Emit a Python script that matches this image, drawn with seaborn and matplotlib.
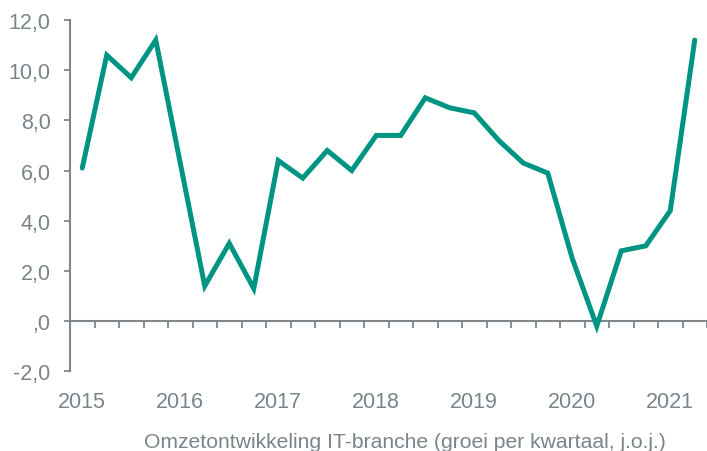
import matplotlib
matplotlib.use("Agg")
import matplotlib.pyplot as plt
import seaborn as sns
import pandas as pd
import numpy as np

# ---- data ----
quarters = [f"{y} Q{q}" for y in range(2015, 2022) for q in range(1, 5)][:26]
values = [6.1, 10.6, 9.7, 11.2,
          6.3, 1.4, 3.1, 1.3,
          6.4, 5.7, 6.8, 6.0,
          7.4, 7.4, 8.9, 8.5,
          8.3, 7.2, 6.3, 5.9,
          2.5, -0.2, 2.8, 3.0,
          4.4, 11.2]
years = ["2015", "2016", "2017", "2018", "2019", "2020", "2021"]
y_ticks = [-2, 0, 2, 4, 6, 8, 10, 12]
y_tick_labels = ["-2,0", ",0", "2,0", "4,0", "6,0", "8,0", "10,0", "12,0"]
caption = "Omzetontwikkeling IT-branche (groei per kwartaal, j.o.j.)"

df = pd.DataFrame({"idx": np.arange(len(values)), "quarter": quarters, "value": values})

sns.set_style("white")
plt.rcParams["font.family"] = ["Liberation Sans", "DejaVu Sans"]

TEXT = "#7a848b"
AXIS = "#7f878c"
LINE = "#009482"

fig = plt.figure(figsize=(7.07, 4.52), dpi=100)
ax = fig.add_axes([70 / 707, 1 - 372.3 / 452, 637 / 707, (372.3 - 21) / 452])

sns.lineplot(data=df, x="idx", y="value", ax=ax, color=LINE, linewidth=3.6,
             solid_joinstyle="miter", solid_capstyle="round")

n = len(values)
ax.set_xlim(-0.5, n - 0.5)
ax.set_ylim(-2, 12)
ax.set_xlabel("")
ax.set_ylabel("")

# spines
for s in ["top", "right"]:
    ax.spines[s].set_visible(False)
ax.spines["bottom"].set_position(("data", 0))
for s in ["bottom", "left"]:
    ax.spines[s].set_color(AXIS)
    ax.spines[s].set_linewidth(1.5)
    ax.spines[s].set_zorder(0)

# x ticks at category boundaries, no labels
ax.set_xticks(np.arange(-0.5, n, 1.0))
ax.set_xticklabels([])
ax.tick_params(axis="x", bottom=True, direction="out", length=5, width=1.3, color=AXIS)

# y ticks
ax.set_yticks(y_ticks)
ax.set_yticklabels(y_tick_labels)
ax.tick_params(axis="y", left=True, direction="out", length=4.5, width=1.3, color=AXIS,
               labelsize=15.5, labelcolor=TEXT, pad=9.5)

# year labels under first quarter of each year
for i, yr in enumerate(years):
    ax.annotate(yr, xy=(i * 4, -2), xycoords="data", xytext=(0, -25.9),
                textcoords="offset points", ha="center", va="baseline",
                fontsize=15.5, color=TEXT, annotation_clip=False)

fig.text(405 / 707, (452 - 448.3) / 452, caption, ha="center", va="baseline",
         fontsize=15.2, color=TEXT)

fig.savefig("out.png", dpi=100)
